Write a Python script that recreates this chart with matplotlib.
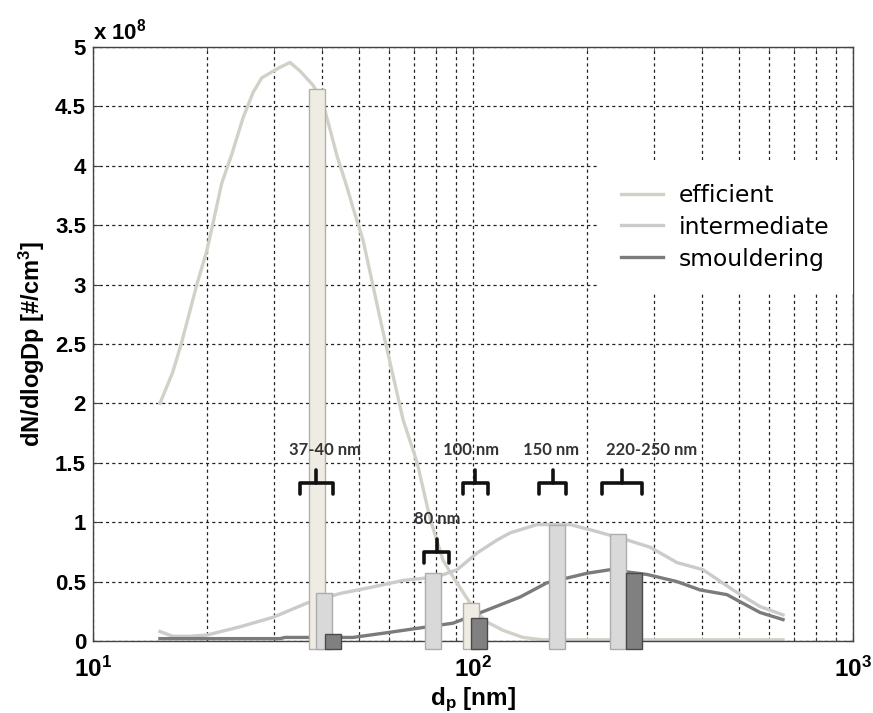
import numpy as np
import matplotlib.pyplot as plt
from matplotlib.ticker import LogLocator, FixedLocator, FuncFormatter, NullFormatter

plt.rcParams['font.family'] = ['Liberation Sans', 'DejaVu Sans']
plt.rcParams['mathtext.default'] = 'regular'

# size distributions, dN/dlogDp in units of 1e8 #/cm3
eff_dp = [15.0, 16.2, 17.1, 18.8, 19.95, 20.8, 21.8, 23.2, 24.8, 26.4, 27.8, 29.2,
          31.1, 33.0, 35.0, 37.9, 40.1, 42.1, 43.9, 46.6, 48.3, 51.4, 58.0, 65.5,
          71.3, 77.1, 83.4, 88.6, 98.2, 102.4, 108.8, 119.9, 135.4, 152.9, 215.9,
          395.7, 654.4]
eff_n = [2.00, 2.26, 2.51, 3.01, 3.29, 3.55, 3.85, 4.10, 4.40, 4.62, 4.74, 4.78,
         4.83, 4.87, 4.80, 4.68, 4.55, 4.30, 4.08, 3.82, 3.65, 3.37, 2.60, 1.86,
         1.50, 1.03, 0.68, 0.54, 0.32, 0.24, 0.16, 0.09, 0.03, 0.01, 0.01,
         0.01, 0.01]

int_dp = [15.0, 16.2, 18.0, 19.95, 24.4, 29.8, 36.6, 44.7, 53.6, 65.5, 80.4, 90.8,
          102.4, 115.7, 125.2, 147.4, 180.0, 206.9, 254.3, 292.3, 344.3, 403.0,
          483.3, 569.2, 654.4]
int_n = [0.08, 0.04, 0.04, 0.05, 0.12, 0.20, 0.32, 0.40, 0.45, 0.51, 0.54, 0.60,
         0.74, 0.85, 0.91, 0.98, 0.98, 0.93, 0.85, 0.79, 0.66, 0.60,
         0.43, 0.29, 0.22]

smo_dp = [15.0, 31.1, 32.0, 46.0, 48.3, 59.4, 72.5, 88.6, 108.8, 133.0, 156.6,
          176.8, 199.5, 229.4, 287.1, 344.3, 395.7, 466.0, 569.2, 654.4]
smo_n = [0.02, 0.02, 0.03, 0.03, 0.03, 0.07, 0.11, 0.15, 0.26, 0.37, 0.49,
         0.53, 0.57, 0.60, 0.56, 0.50, 0.43, 0.39, 0.24, 0.18]

# selected sizes (bar centre in nm, height)
eff_bar_dp = [38.8, 99.0]
eff_bar_n = [4.65, 0.32]
int_bar_dp = [40.6, 78.7, 166.0, 241.0]
int_bar_n = [0.40, 0.57, 0.98, 0.90]
smo_bar_dp = [42.7, 103.8, 265.0]
smo_bar_n = [0.06, 0.19, 0.57]

# size range brackets: label, left nm, right nm, level
br_labels = ['37-40 nm', '80 nm', '100 nm', '150 nm', '220-250 nm']
br_left = [35.0, 74.3, 94.1, 149.2, 218.6]
br_right = [42.8, 86.5, 109.5, 175.7, 278.5]
br_level = [1.33, 0.75, 1.33, 1.33, 1.33]
br_text_x = [40.8, 80.4, 98.9, 160.5, 295.8]

c_eff, c_int, c_smo = '#d3d0c8', '#cbcbcb', '#7b7b7b'

fig = plt.figure(figsize=(8.73, 7.13), dpi=100)
ax = fig.add_axes([93 / 873, 1 - 641 / 713, 760 / 873, 594 / 713])
ax.set_xscale('log')
ax.set_xlim(10, 1000)
ax.set_ylim(0, 5)

ax.plot(eff_dp, eff_n, color=c_eff, lw=2.4, label='efficient', zorder=2)
ax.plot(int_dp, int_n, color=c_int, lw=2.4, label='intermediate', zorder=2)
ax.plot(smo_dp, smo_n, color=c_smo, lw=2.4, label='smouldering', zorder=2)


def bars(dp, n, face, edge):
    half = 0.021  # half width in decades
    dp = np.asarray(dp)
    left = dp * 10 ** (-half)
    right = dp * 10 ** half
    drop = 0.07
    ax.bar(left, np.asarray(n) + drop, width=right - left, bottom=-drop,
           align='edge', color=face, edgecolor=edge, lw=1.0, zorder=3,
           clip_on=False)


bars(eff_bar_dp, eff_bar_n, '#eeece3', '#b3b1a6')
bars(int_bar_dp, int_bar_n, '#d9d9d9', '#adadad')
bars(smo_bar_dp, smo_bar_n, '#808080', '#4a4a4a')

for lab, l, r, h, tx in zip(br_labels, br_left, br_right, br_level, br_text_x):
    c = np.sqrt(l * r)
    ax.plot([l, l, r, r], [h - 0.09, h, h, h - 0.09], color='#111111', lw=2.6,
            solid_joinstyle='round', solid_capstyle='round', zorder=4)
    ax.plot([c, c], [h, h + 0.11], color='#111111', lw=2.6,
            solid_capstyle='round', zorder=4)
    ax.text(tx, h + 0.28, lab, ha='center', va='center', fontsize=12,
            family='Lato', fontweight='bold', color='#333333', zorder=4)

gridkw = dict(color='#222222', lw=0.9, ls=(0, (2.5, 2.5)))
ax.xaxis.set_major_locator(LogLocator(base=10, numticks=5))
ax.xaxis.set_minor_locator(LogLocator(base=10, subs=np.arange(2, 10), numticks=20))
ax.xaxis.set_minor_formatter(NullFormatter())
ax.xaxis.set_major_formatter(FuncFormatter(lambda v, p: r'$10^{%d}$' % round(np.log10(v))))
ax.yaxis.set_major_locator(FixedLocator(np.arange(0, 5.01, 0.5)))
ax.yaxis.set_major_formatter(FuncFormatter(lambda v, p: '%g' % v))
ax.grid(True, which='both', axis='x', **gridkw)
ax.grid(True, which='major', axis='y', **gridkw)
ax.set_axisbelow(True)

ax.tick_params(which='both', direction='in', top=True, right=True, color='#444444')
ax.tick_params(which='major', length=5)
ax.tick_params(which='minor', length=3)
ax.tick_params(axis='y', labelsize=16, pad=5)
ax.tick_params(axis='x', labelsize=17.5, pad=11)
for lbl in ax.get_xticklabels() + ax.get_yticklabels():
    lbl.set_fontweight('bold')
for s in ax.spines.values():
    s.set_color('#444444')
    s.set_linewidth(1.0)

ax.set_xlabel(r'd$_p$ [nm]', fontsize=17.5, fontweight='bold', labelpad=3)
ax.set_ylabel(r'dN/dlogDp [#/cm$^3$]', fontsize=17, fontweight='bold', labelpad=6)
ax.text(0.0, 1.004, r'x 10$^8$', transform=ax.transAxes, ha='left', va='bottom',
        fontsize=16, fontweight='bold')

leg = ax.legend(loc='upper right', bbox_to_anchor=(1.0, 0.809), borderaxespad=0,
                prop={'family': 'DejaVu Sans', 'size': 16.8}, frameon=True,
                fancybox=False, framealpha=1, edgecolor='none', borderpad=1.0,
                handlelength=1.8, handletextpad=0.7, labelspacing=0.38)

fig.savefig('out.png', dpi=100)
